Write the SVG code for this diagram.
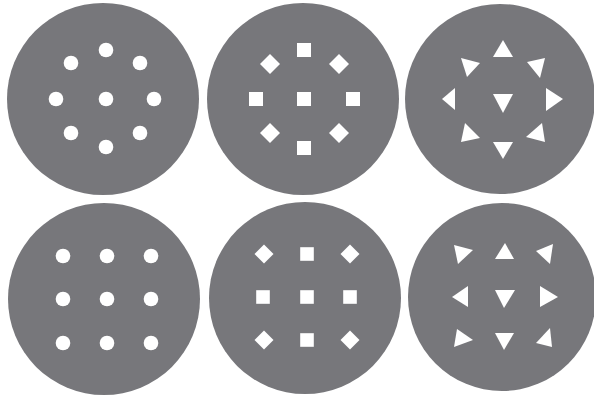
<svg xmlns="http://www.w3.org/2000/svg" width="594" height="402" viewBox="0 0 594 402">
<style>
.disc{fill:#77777b}
.m{fill:#ffffff}
</style>
<defs>
<circle id="dot" r="7.3"/>
<rect id="sq" x="-7" y="-7" width="14" height="14"/>
<polygon id="dia" points="0,-10 10,0 0,10 -10,0"/>
<rect id="sq2" x="-6.8" y="-6.8" width="13.6" height="13.6"/>
<polygon id="dia2" points="0,-9.5 9.5,0 0,9.5 -9.5,0"/>
</defs>
<rect width="594" height="402" fill="#ffffff"/>
<g id="disc1">
<circle class="disc" cx="103" cy="99" r="96"/>
<g class="m">
<use href="#dot" x="106" y="50"/>
<use href="#dot" x="71" y="63"/>
<use href="#dot" x="140" y="63"/>
<use href="#dot" x="56" y="99"/>
<use href="#dot" x="106" y="99"/>
<use href="#dot" x="154" y="99"/>
<use href="#dot" x="71" y="133"/>
<use href="#dot" x="140" y="133"/>
<use href="#dot" x="106" y="147"/>
</g>
</g>
<g id="disc2">
<circle class="disc" cx="303" cy="99" r="96"/>
<g class="m">
<use href="#sq" x="304" y="50"/>
<use href="#dia" x="270" y="64"/>
<use href="#dia" x="339" y="64"/>
<use href="#sq" x="256" y="99"/>
<use href="#sq" x="304" y="99"/>
<use href="#sq" x="353" y="99"/>
<use href="#dia" x="270" y="133"/>
<use href="#dia" x="339" y="133"/>
<use href="#sq" x="304" y="148"/>
</g>
</g>
<g id="disc3">
<circle class="disc" cx="500" cy="99" r="95"/>
<g class="m">
<polygon points="503,40 513,57 493,57"/>
<polygon points="461,58 480,63 467,77"/>
<polygon points="527,62 545,58 540,78"/>
<polygon points="442,99 455,88 455,110"/>
<polygon points="493,94 513,94 503,113"/>
<polygon points="546,88 563,99 546,111"/>
<polygon points="465,123 480,138 461,142"/>
<polygon points="542,123 545,142 526,137"/>
<polygon points="493,142 513,142 503,159"/>
</g>
</g>
<g id="disc4">
<circle class="disc" cx="104" cy="299" r="96"/>
<g class="m">
<use href="#dot" x="63" y="256"/>
<use href="#dot" x="107" y="256"/>
<use href="#dot" x="151" y="256"/>
<use href="#dot" x="63" y="299"/>
<use href="#dot" x="107" y="299"/>
<use href="#dot" x="151" y="299"/>
<use href="#dot" x="63" y="343"/>
<use href="#dot" x="107" y="343"/>
<use href="#dot" x="151" y="343"/>
</g>
</g>
<g id="disc5">
<circle class="disc" cx="305" cy="298" r="96"/>
<g class="m">
<use href="#dia2" x="264" y="254"/>
<use href="#sq2" x="307" y="254"/>
<use href="#dia2" x="350" y="254"/>
<use href="#sq2" x="263" y="297"/>
<use href="#sq2" x="307" y="297"/>
<use href="#sq2" x="350" y="297"/>
<use href="#dia2" x="264" y="340"/>
<use href="#sq2" x="307" y="340"/>
<use href="#dia2" x="350" y="340"/>
</g>
</g>
<g id="disc6">
<circle class="disc" cx="502" cy="297" r="94"/>
<g class="m">
<polygon points="454,245 473,250 458,264"/>
<polygon points="505,243 514,259 495,259"/>
<polygon points="536,251 553,244 550,264"/>
<polygon points="452,297 468,286 468,307"/>
<polygon points="495,290 515,290 504,308"/>
<polygon points="540,286 558,297 540,307"/>
<polygon points="457,329 473,340 454,347"/>
<polygon points="495,333 514,333 504,350"/>
<polygon points="550,328 552,347 536,343"/>
</g>
</g>
</svg>
